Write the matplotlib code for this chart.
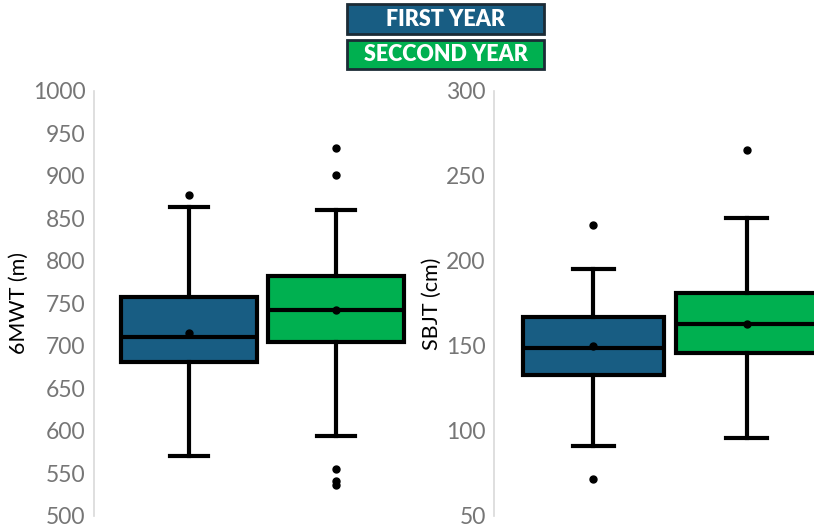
import matplotlib.pyplot as plt
from matplotlib.patches import Rectangle

# Summary statistics per test and year
years = ["FIRST YEAR", "SECCOND YEAR"]
colors = ["#185d83", "#00b050"]

mwt_q1 = [681, 705]
mwt_med = [710, 742]
mwt_q3 = [757, 782]
mwt_lo = [570, 594]
mwt_hi = [863, 860]
mwt_mean = [715, 742]
mwt_fliers = [[877], [933, 901, 555, 541, 536]]

sbjt_q1 = [133, 146]
sbjt_med = [149, 163]
sbjt_q3 = [167, 181]
sbjt_lo = [91, 96]
sbjt_hi = [195, 225]
sbjt_mean = [150, 163]
sbjt_fliers = [[221, 72], [265]]

plt.rcParams['font.family'] = ['Lato', 'DejaVu Sans']


def make_stats(q1, med, q3, lo, hi, mean, fliers):
    stats = []
    for i in range(len(q1)):
        stats.append(dict(q1=q1[i], med=med[i], q3=q3[i], whislo=lo[i],
                          whishi=hi[i], mean=mean[i], fliers=fliers[i]))
    return stats


def draw_box(ax, stats, width, capw):
    b = ax.bxp(stats, positions=[1, 2], widths=width, capwidths=capw,
               patch_artist=True, showmeans=True, showfliers=True,
               boxprops=dict(edgecolor='black', linewidth=3),
               medianprops=dict(color='black', linewidth=3),
               whiskerprops=dict(color='black', linewidth=3),
               capprops=dict(color='black', linewidth=3),
               meanprops=dict(marker='o', markerfacecolor='black',
                              markeredgecolor='black', markersize=5),
               flierprops=dict(marker='o', markerfacecolor='black',
                               markeredgecolor='black', markersize=5))
    for patch, c in zip(b['boxes'], colors):
        patch.set_facecolor(c)
    for s in ['top', 'right', 'bottom']:
        ax.spines[s].set_visible(False)
    ax.spines['left'].set_color('#d9d9d9')
    ax.spines['left'].set_linewidth(1.2)
    ax.set_xticks([])
    ax.tick_params(axis='y', length=0, pad=6, labelsize=16.5, labelcolor='#767676')


fig = plt.figure(figsize=(8.14, 5.32), dpi=100)

ax1 = fig.add_axes([0.1155, 0.0301, 0.4128, 0.7994])
draw_box(ax1, make_stats(mwt_q1, mwt_med, mwt_q3, mwt_lo, mwt_hi, mwt_mean, mwt_fliers), 0.925, 0.26)
ax1.set_xlim(0.354, 2.64)
ax1.set_ylim(500, 1000)
ax1.set_yticks(range(500, 1001, 50))
ax1.set_ylabel("6MWT (m)", fontsize=15.5, labelpad=3)

ax2 = fig.add_axes([0.6069, 0.0301, 0.3931, 0.7994])
draw_box(ax2, make_stats(sbjt_q1, sbjt_med, sbjt_q3, sbjt_lo, sbjt_hi, sbjt_mean, sbjt_fliers), 0.92, 0.267)
ax2.set_xlim(0.353, 2.439)
ax2.set_ylim(50, 300)
ax2.set_yticks(range(50, 301, 50))
ax2.set_ylabel("SBJT (cm)", fontsize=15.5, labelpad=3)

# legend boxes on top
box_y = [0.9355, 0.8703]
box_h = [0.0564, 0.0545]
for i in range(2):
    fig.patches.append(Rectangle((0.4263, box_y[i]), 0.242, box_h[i], transform=fig.transFigure,
                                 facecolor=colors[i], edgecolor='#1c2b36', linewidth=2))
    fig.text(0.5473, box_y[i] + box_h[i] / 2, years[i], color='white', fontsize=15.5,
             fontweight='heavy', ha='center', va='center')

fig.savefig("out.png", dpi=100)
